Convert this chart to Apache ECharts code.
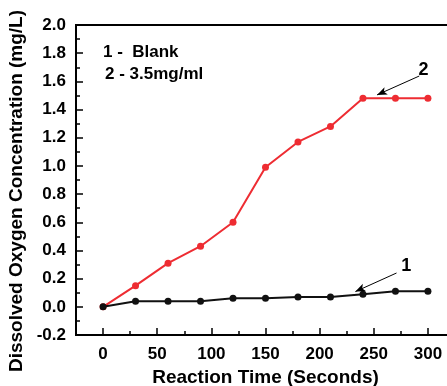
<!DOCTYPE html>
<html>
<head>
<meta charset="utf-8">
<script src="https://cdn.jsdelivr.net/npm/echarts@6/dist/echarts.min.js"></script>
<style>
  html, body { margin: 0; padding: 0; background: #fff; }
  #chart { width: 447px; height: 386px; }
</style>
</head>
<body>
<div id="chart"></div>
<script>
// reaction time (seconds)
const times = [0, 30, 60, 90, 120, 150, 180, 210, 240, 270, 300];
// 1 - blank
const blank = [0, 0.04, 0.04, 0.04, 0.06, 0.06, 0.07, 0.07, 0.09, 0.11, 0.11];
// 2 - 3.5mg/ml
const sample = [0, 0.15, 0.31, 0.43, 0.60, 0.99, 1.17, 1.28, 1.48, 1.48, 1.48];
const xMajorTicks = [0, 50, 100, 150, 200, 250, 300];
const xMinorTicks = [-25, 25, 75, 125, 175, 225, 275, 325];
const legendLines = ["1 -  Blank", "2 - 3.5mg/ml"];

const font = "Liberation Sans";
const red = "#ee2c32";
const dark = "#111111";

const chart = echarts.init(document.getElementById("chart"), null, { renderer: "canvas" });

const pairs = (ys) => times.map((t, i) => [t, ys[i]]);

const option = {
  animation: false,
  backgroundColor: "#fff",
  textStyle: { fontFamily: font },
  grid: {
    left: 76,
    top: 25,
    bottom: 51,
    right: -8,
    outerBoundsMode: "none",
    containLabel: false,
    show: true,
    borderColor: "#000",
    borderWidth: 2,
  },
  xAxis: [
    {
      type: "value",
      min: -25,
      max: 325,
      name: "Reaction Time (Seconds)",
      nameLocation: "middle",
      nameGap: 30,
      nameTextStyle: { fontFamily: font, fontWeight: "bold", fontSize: 19, color: "#000" },
      axisLine: { onZero: false, lineStyle: { color: "#000", width: 2 } },
      axisTick: { inside: true, length: 7, customValues: xMajorTicks, lineStyle: { color: "#000", width: 1.5 } },
      axisLabel: { customValues: xMajorTicks, margin: 11, fontFamily: font, fontWeight: "bold", fontSize: 17, color: "#000" },
      splitLine: { show: false },
    },
    {
      type: "value",
      min: -25,
      max: 325,
      position: "bottom",
      axisLine: { show: false, onZero: false },
      axisTick: { inside: true, length: 4, customValues: xMinorTicks, lineStyle: { color: "#000", width: 1.5 } },
      axisLabel: { show: false },
      splitLine: { show: false },
    },
  ],
  yAxis: {
    type: "value",
    min: -0.2,
    max: 2.0,
    interval: 0.2,
    name: "Dissolved Oxygen Concentration (mg/L)",
    nameLocation: "middle",
    nameGap: 50,
    nameTextStyle: { fontFamily: font, fontWeight: "bold", fontSize: 19, color: "#000", padding: [0, 22, 0, 0] },
    axisLine: { onZero: false, lineStyle: { color: "#000", width: 2 } },
    axisTick: { inside: true, length: 7, lineStyle: { color: "#000", width: 1.5 } },
    minorTick: { show: true, splitNumber: 2, length: 4, lineStyle: { color: "#000", width: 1.5 } },
    axisLabel: {
      margin: 10,
      fontFamily: font,
      fontWeight: "bold",
      fontSize: 17,
      color: "#000",
      formatter: (v) => v.toFixed(1),
    },
    splitLine: { show: false },
  },
  graphic: [
    {
      type: "text",
      left: 103,
      top: 44,
      style: { text: legendLines[0], font: "bold 17px " + font, fill: "#000" },
    },
    {
      type: "text",
      left: 105,
      top: 66,
      style: { text: legendLines[1], font: "bold 17px " + font, fill: "#000" },
    },
  ],
  series: [
    {
      name: "1",
      type: "line",
      data: pairs(blank),
      symbol: "circle",
      symbolSize: 7,
      lineStyle: { color: dark, width: 2 },
      itemStyle: { color: dark },
      z: 3,
      markLine: {
        silent: true,
        symbol: ["none", "arrow"],
        symbolSize: [6, 10],
        lineStyle: { color: "#000", width: 1, type: "solid" },
        label: { show: false },
        data: [[{ coord: [271, 0.24] }, { coord: [233, 0.108] }]],
      },
      markPoint: {
        symbol: "circle",
        symbolSize: 0,
        label: { show: true, formatter: "1", fontFamily: font, fontWeight: "bold", fontSize: 18, color: "#000" },
        data: [{ coord: [280, 0.29] }],
      },
    },
    {
      name: "2",
      type: "line",
      data: pairs(sample),
      symbol: "circle",
      symbolSize: 7,
      lineStyle: { color: red, width: 2 },
      itemStyle: { color: red },
      z: 2,
      markLine: {
        silent: true,
        symbol: ["none", "arrow"],
        symbolSize: [6, 10],
        lineStyle: { color: "#000", width: 1, type: "solid" },
        label: { show: false },
        data: [[{ coord: [292, 1.638] }, { coord: [253, 1.504] }]],
      },
      markPoint: {
        symbol: "circle",
        symbolSize: 0,
        label: { show: true, formatter: "2", fontFamily: font, fontWeight: "bold", fontSize: 18, color: "#000" },
        data: [{ coord: [296, 1.68] }],
      },
    },
  ],
};

chart.setOption(option);
</script>
</body>
</html>
